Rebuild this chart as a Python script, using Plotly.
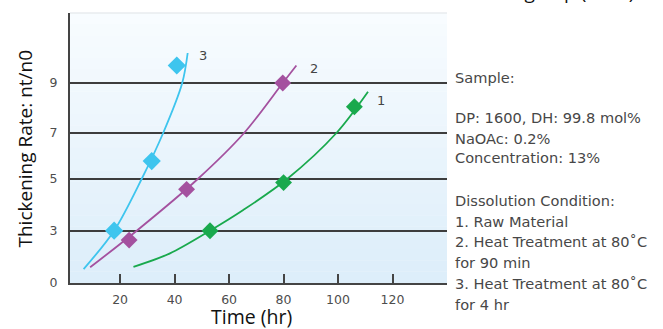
import numpy as np
import plotly.graph_objects as go

# ---- data ----
time_1 = [53.0, 80.0, 106.0]
rate_1 = [3.0, 4.86, 8.05]
time_2 = [23.3, 44.4, 79.7]
rate_2 = [2.46, 4.6, 9.0]
time_3 = [17.8, 31.6, 40.8]
rate_3 = [3.0, 5.78, 9.7]

fit_time_1 = [24.9, 38.3, 53.0, 65.2, 81.3, 99.4, 111.0]
fit_rate_1 = [0.93, 1.7, 3.0, 3.8, 5.0, 7.0, 8.65]
fit_time_2 = [9.0, 26.1, 48.5, 65.5, 79.7, 84.7]
fit_rate_2 = [0.9, 3.0, 5.0, 7.0, 9.0, 9.7]
fit_time_3 = [6.6, 17.8, 27.9, 35.8, 42.8, 44.8]
fit_rate_3 = [0.8, 3.0, 5.0, 7.0, 9.0, 10.2]

series_labels = ["1", "2", "3"]
label_time = [115.6, 91.1, 50.4]
label_rate = [8.3, 9.6, 10.1]

y_tick_vals = [0, 3, 5, 7, 9]
x_tick_vals = [20, 40, 60, 80, 100, 120]

info_lines = [
    "Sample:",
    "DP: 1600, DH: 99.8 mol%",
    "NaOAc: 0.2%",
    "Concentration: 13%",
    "Dissolution Condition:",
    "1. Raw Material",
    "2. Heat Treatment at 80˚C",
    "for 90 min",
    "3. Heat Treatment at 80˚C",
    "for 4 hr",
]

# ---- the reference's y axis is non-linear: ticks are (nearly) evenly spaced ----
TICK_POS = [0, 52.3, 104, 150, 200]


def to_pos(v):
    v = np.asarray(v, dtype=float)
    p = np.interp(v, y_tick_vals, TICK_POS)
    return np.where(v > 9, 200 + (v - 9) * 25.0, p)


colors = {"1": "#19a94d", "2": "#a4519f", "3": "#3ec5ee"}
msize = {"1": 13, "2": 13, "3": 14}

fig = go.Figure()

# gradient plot background
n_bands = 24
top = np.array([248, 252, 255])
bot = np.array([221, 238, 250])
for i in range(n_bands):
    f = i / (n_bands - 1)
    c = (top * (1 - f) + bot * f).astype(int)
    fig.add_shape(type="rect", xref="x domain", yref="y domain",
                  x0=0, x1=1, y0=1 - (i + 1) / n_bands, y1=1 - i / n_bands + 0.001,
                  fillcolor=f"rgb({c[0]},{c[1]},{c[2]})", line_width=0, layer="below")
fig.add_shape(type="line", xref="x domain", yref="y domain", x0=0, x1=1, y0=1, y1=1,
              line=dict(color="#dfe3e6", width=1), layer="below")

fits = [(fit_time_1, fit_rate_1, "1"), (fit_time_2, fit_rate_2, "2"), (fit_time_3, fit_rate_3, "3")]
pts = [(time_1, rate_1, "1"), (time_2, rate_2, "2"), (time_3, rate_3, "3")]

for t, r, k in fits:
    fig.add_trace(go.Scatter(x=t, y=to_pos(r), mode="lines",
                             line=dict(color=colors[k], width=1.8, shape="spline", smoothing=0.9),
                             showlegend=False, hoverinfo="skip"))
for t, r, k in pts:
    fig.add_trace(go.Scatter(x=t, y=to_pos(r), mode="markers",
                             marker=dict(symbol="diamond", size=msize[k], color=colors[k],
                                         line=dict(width=0)),
                             showlegend=False))

for lab, lt, lr in zip(series_labels, label_time, label_rate):
    fig.add_annotation(x=lt, y=float(to_pos(lr)), text=lab, showarrow=False,
                       font=dict(family="DejaVu Sans", size=13, color="#444"))

# side text block
line_y = [77, 117, 138, 158, 200, 221, 241, 262, 283, 304]
for txt, py in zip(info_lines, line_y):
    fig.add_annotation(xref="paper", yref="paper", x=(453 - 70) / 377, y=(283 - py) / 270,
                       xanchor="left", yanchor="middle", text=txt, showarrow=False,
                       font=dict(family="DejaVu Sans", size=14.6, color="#474747"))

# axis titles
fig.add_annotation(xref="paper", yref="paper", x=(25 - 70) / 377, y=(283 - 148.5) / 270,
                   text="Thickening Rate: nt/n0", textangle=-90, showarrow=False,
                   xanchor="center", yanchor="middle",
                   font=dict(family="Open Sans", size=19, color="#111"))
fig.add_annotation(xref="paper", yref="paper", x=(251 - 70) / 377, y=(283 - 316.5) / 270,
                   text="Time (hr)", showarrow=False, xanchor="center", yanchor="middle",
                   borderpad=0,
                   font=dict(family="Open Sans", size=19.5, color="#111"))
# cut-off heading of a neighbouring panel
fig.add_annotation(xref="paper", yref="paper", x=(636 - 70) / 377, y=1 + 6 / 270,
                   text="Standing Gap (hour)", showarrow=False, xanchor="right", yanchor="bottom",
                   font=dict(family="Open Sans", size=19, color="#111"))

fig.update_layout(
    width=663, height=329,
    margin=dict(l=70, r=216, t=13, b=46),
    paper_bgcolor="white", plot_bgcolor="rgba(0,0,0,0)",
    showlegend=False,
    xaxis=dict(range=[1.6, 140], tickvals=x_tick_vals, ticks="inside", ticklen=9,
               tickwidth=2, tickcolor="#444", showgrid=False, zeroline=False,
               showline=True, linecolor="#444", linewidth=2, ticklabelstandoff=4,
               tickfont=dict(family="DejaVu Sans", size=12.5, color="#4d4d4d")),
    yaxis=dict(range=[0, 270], tickvals=list(TICK_POS), ticktext=[str(v) for v in y_tick_vals],
               ticks="", showgrid=True, gridcolor="#3d3d3d", gridwidth=2, zeroline=False,
               showline=True, linecolor="#444", linewidth=2, ticklabelstandoff=8,
               tickfont=dict(family="DejaVu Sans", size=12.5, color="#4d4d4d")),
)

fig.write_html("out.html", config={"displayModeBar": False},
               post_script="document.body.style.margin='0';document.body.style.overflow='hidden';")
